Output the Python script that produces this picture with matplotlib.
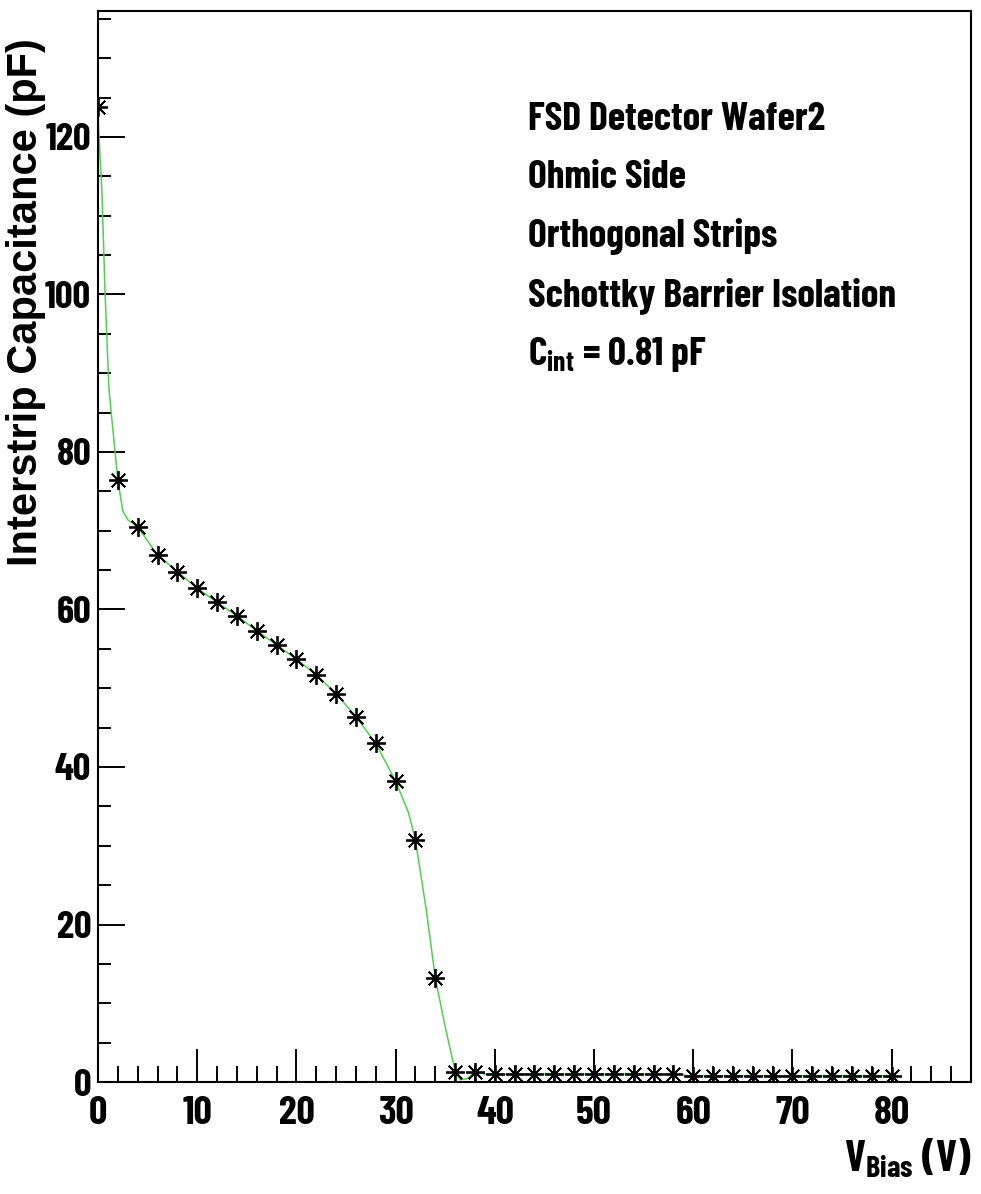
import matplotlib
matplotlib.use('Agg')
import matplotlib.pyplot as plt
from matplotlib import font_manager
from matplotlib.ticker import MultipleLocator

# measured points (bias voltage in V, capacitance in pF)
vbias = [0, 2, 4, 6, 8, 10, 12, 14, 16, 18, 20, 22, 24, 26, 28, 30, 32, 34, 36, 38,
         40, 42, 44, 46, 48, 50, 52, 54, 56, 58,
         60, 62, 64, 66, 68, 70, 72, 74, 76, 78, 80]
cap = [123.8, 76.4, 70.5, 66.9, 64.8, 62.7, 60.9, 59.2, 57.3, 55.5, 53.7, 51.7, 49.3,
       46.4, 43.0, 38.2, 30.7, 13.2, 1.3, 1.3,
       1.0, 1.0, 1.0, 1.0, 1.0, 1.0, 1.0, 1.0, 1.0, 1.0,
       0.8, 0.8, 0.8, 0.8, 0.8, 0.8, 0.8, 0.8, 0.8, 0.8, 0.8]

# smooth green curve
curve_v = [0, 0.4, 0.7, 1.1, 1.7, 2, 2.5, 3, 4, 6, 8, 10, 12, 14, 16, 18, 20, 22, 24,
           26, 28, 30, 31.3, 32, 33.1, 34, 35, 36, 36.5, 37.2, 38, 39, 58.8, 59.3, 80]
curve_c = [122.5, 113, 100.6, 88, 80.3, 76.4, 72.5, 71.4, 70.5, 66.9, 64.8, 62.7, 60.9,
           59.2, 57.3, 55.5, 53.7, 51.7, 49.3, 46.4, 43.0, 38.2, 34.2, 30.7, 21.8, 13.2,
           7.0, 1.4, 0.3, 0.4, 1.3, 1.0, 1.0, 0.8, 0.8]

info_lines = ['FSD Detector Wafer2', 'Ohmic Side', 'Orthogonal Strips',
              'Schottky Barrier Isolation']

fonts = font_manager.fontManager.ttflist
installed = {f.name for f in fonts}


def has_bold(name):
    return any(f.name == name and f.style == 'normal' and f.stretch == 'normal'
               and f.weight in (700, 'bold') for f in fonts)


# condensed bold face for ticks/texts, like the ROOT Helvetica look
FONT = next((n for n in ['Barlow Condensed', 'Roboto Condensed', 'Archivo Narrow',
                         'Liberation Sans Narrow', 'Liberation Sans'] if n in installed),
            'DejaVu Sans')
# wide bold face for the y title
YFONT, YSIZE = next(((n, s) for n, s in [('Liberation Sans', 30), ('Arimo', 30),
                                         ('Roboto', 31), ('Inter', 28), ('Barlow', 30)]
                     if has_bold(n)), ('DejaVu Sans', 27))

plt.rcParams['font.family'] = [FONT, 'DejaVu Sans']
plt.rcParams['font.weight'] = 'bold'
plt.rcParams['axes.labelweight'] = 'bold'
plt.rcParams['mathtext.fontset'] = 'custom'
plt.rcParams['mathtext.rm'] = FONT + ':bold'
plt.rcParams['mathtext.bf'] = FONT + ':bold'
plt.rcParams['mathtext.it'] = FONT + ':bold'

fig = plt.figure(figsize=(9.81, 11.94), dpi=100)
ax = fig.add_axes([0.0999, 0.0938, 0.8899, 0.8970])

ax.plot(curve_v, curve_c, color='#4fd04f', linewidth=1.1, zorder=2)
ax.plot(vbias, cap, linestyle='none', marker=(8, 2, 0), markersize=13.5,
        markeredgewidth=1.3, color='black', zorder=3)

ax.set_xlim(0, 88)
ax.set_ylim(0, 136)

ax.xaxis.set_major_locator(MultipleLocator(10))
ax.xaxis.set_minor_locator(MultipleLocator(2))
ax.yaxis.set_major_locator(MultipleLocator(20))
ax.yaxis.set_minor_locator(MultipleLocator(5))
ax.set_xticks([0, 10, 20, 30, 40, 50, 60, 70, 80])

ax.tick_params(axis='x', which='major', direction='in', length=24, width=1.4,
               labelsize=29, pad=10, top=False)
ax.tick_params(axis='x', which='minor', direction='in', length=11.5, width=1.4, top=False)
ax.tick_params(axis='y', which='major', direction='in', length=19.5, width=1.4,
               labelsize=28, pad=5, right=False)
ax.tick_params(axis='y', which='minor', direction='in', length=9.5, width=1.4, right=False)

for sp in ax.spines.values():
    sp.set_linewidth(1.5)

ax.set_ylabel('Interstrip Capacitance (pF)', fontsize=YSIZE, fontweight='bold',
              family=[YFONT, 'DejaVu Sans'], loc='top')
ax.yaxis.set_label_coords(-0.059, 0.975)
ax.set_xlabel(r'$\mathrm{V}_{\mathrm{Bias}}$ (V)', fontsize=31, fontweight='bold',
              loc='right', labelpad=4)

y0 = 0.899
for i, line in enumerate(info_lines):
    ax.text(0.4926, y0 - i * 0.0549, line, transform=ax.transAxes, fontsize=28.5,
            ha='left', va='center')
ax.text(0.4926, y0 - 4 * 0.0549, r'$\mathrm{C}_{\mathrm{int}}$ = 0.81 pF',
        transform=ax.transAxes, fontsize=28.5, ha='left', va='center')

fig.savefig('out.png', dpi=100)
